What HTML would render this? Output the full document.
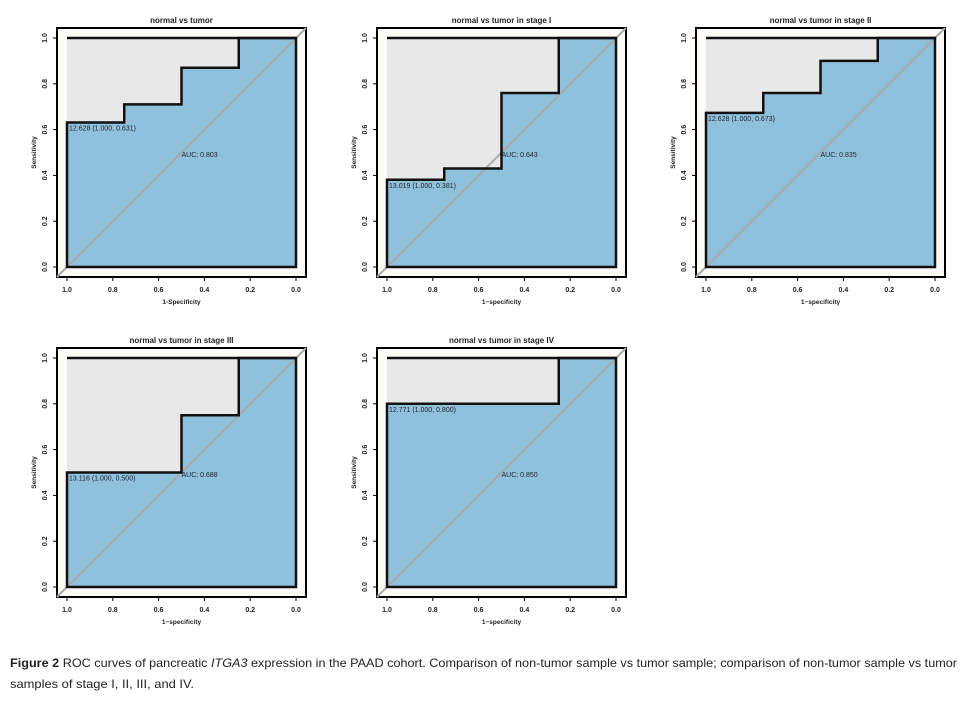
<!DOCTYPE html>
<html><head><meta charset="utf-8"><style>
body{margin:0;background:#fff;}
svg{display:block;font-family:"Liberation Sans",sans-serif;}
</style></head><body>
<svg id="fig" width="974" height="706" viewBox="0 0 974 706">
<text x="10" y="667" font-size="12" fill="#222" textLength="947" lengthAdjust="spacingAndGlyphs"><tspan font-weight="bold">Figure 2</tspan> ROC curves of pancreatic <tspan font-style="italic">ITGA3</tspan> expression in the PAAD cohort. Comparison of non-tumor sample vs tumor sample; comparison of non-tumor sample vs tumor</text>
<text x="10" y="688" font-size="12" fill="#222" textLength="184" lengthAdjust="spacingAndGlyphs">samples of stage I, II, III, and IV.</text>
</svg>
<script>
const titles = ["normal vs tumor","normal vs tumor in stage I","normal vs tumor in stage II","normal vs tumor in stage III","normal vs tumor in stage IV"];
const xLabels = ["1-Specificity","1\u2212specificity","1\u2212specificity","1\u2212specificity","1\u2212specificity"];
const specs1 = [1,0.75,0.75,0.5,0.5,0.25,0.25,0];
const sens1 = [0.631,0.631,0.71,0.71,0.87,0.87,1,1];
const specs2 = [1,0.75,0.75,0.5,0.5,0.25,0.25,0];
const sens2 = [0.381,0.381,0.43,0.43,0.76,0.76,1,1];
const specs3 = [1,0.75,0.75,0.5,0.5,0.25,0.25,0];
const sens3 = [0.673,0.673,0.76,0.76,0.9,0.9,1,1];
const specs4 = [1,0.5,0.5,0.25,0.25,0];
const sens4 = [0.5,0.5,0.75,0.75,1,1];
const specs5 = [1,0.25,0.25,0];
const sens5 = [0.8,0.8,1,1];
const thrLabels = ["12.628 (1.000, 0.631)","13.019 (1.000, 0.381)","12.628 (1.000, 0.673)","13.116 (1.000, 0.500)","12.771 (1.000, 0.800)"];
const aucLabels = ["AUC: 0.803","AUC: 0.643","AUC: 0.835","AUC: 0.688","AUC: 0.850"];
const ticks = [1.0,0.8,0.6,0.4,0.2,0.0];
const tickLabels = ["1.0","0.8","0.6","0.4","0.2","0.0"];
const allSpecs=[specs1,specs2,specs3,specs4,specs5], allSens=[sens1,sens2,sens3,sens4,sens5];
const origins=[[67,38],[387,38],[706,38],[67,358],[387,358]];
const NS="http://www.w3.org/2000/svg", svg=document.getElementById('fig');
function mk(tag,attrs,parent){const e=document.createElementNS(NS,tag);for(const k in attrs)e.setAttribute(k,attrs[k]);(parent||svg).appendChild(e);return e;}
const W=229,H=229;
origins.forEach((o,i)=>{
  const x=v=>o[0]+(1-v)*W, y=v=>o[1]+(1-v)*H;
  const g=mk('g',{});
  
  
  const frame=mk('rect',{x:x(1)-10,y:y(1)-10,width:W+20,height:H+20,fill:'#fcfbf8',stroke:'#000','stroke-width':2},g);
  
  
  const bg=mk('rect',{x:x(1),y:y(1),width:W,height:H,fill:'#e8e8e8'},g);
  
  
  const sp=allSpecs[i], se=allSens[i];
  let d='M'+x(1)+','+y(0);
  sp.forEach((s,j)=>{d+=' L'+x(s)+','+y(se[j]);});
  d+=' L'+x(0)+','+y(0)+' Z';
  const area=mk('path',{d:d,fill:'#8fc1dc'},g);
  
  
  const diag=mk('line',{x1:x(1)-10,y1:y(0)+10,x2:x(0)+10,y2:y(1)-10,stroke:'#aaa','stroke-width':2},g);
  
  
  const curve=mk('path',{d:d,fill:'none',stroke:'#111','stroke-width':2.5},g);
  
  
  const top=mk('line',{x1:x(1),y1:y(1),x2:x(0),y2:y(1),stroke:'#111','stroke-width':2.5},g);
  
  
  const thr=mk('text',{x:x(1)+2,y:y(se[0])+8,'font-size':7,fill:'#223'},g);
  thr.textContent=thrLabels[i];
  
  
  const auc=mk('text',{x:x(0.5),y:y(0.48),'font-size':7,fill:'#223'},g);
  auc.textContent=aucLabels[i];
  
  
  const t=mk('text',{x:x(0.5),y:y(1)-15,'font-size':8,'font-weight':'bold','text-anchor':'middle',fill:'#222'},g);
  t.textContent=titles[i];
  
  
  ticks.forEach((v,j)=>{
    const tx=mk('line',{x1:x(v),y1:y(0)+10,x2:x(v),y2:y(0)+14,stroke:'#000','stroke-width':1},g);
    
    
    const lx=mk('text',{x:x(v),y:y(0)+25,'font-size':7,'font-weight':'bold','text-anchor':'middle',fill:'#222'},g);
    lx.textContent=tickLabels[j];
    
    
    const ty=mk('line',{x1:x(1)-14,y1:y(v),x2:x(1)-10,y2:y(v),stroke:'#000','stroke-width':1},g);
    
    
    const ly=mk('text',{x:x(1)-20,y:y(v),'font-size':7,'font-weight':'bold','text-anchor':'middle',fill:'#222',transform:'rotate(-90 '+(x(1)-20)+' '+y(v)+')'},g);
    ly.textContent=tickLabels[j];
    
    
  });
  const xl=mk('text',{x:x(0.5),y:y(0)+37,'font-size':6.5,'font-weight':'bold','text-anchor':'middle',fill:'#222'},g);
  xl.textContent=xLabels[i];
  
  
  const yx=x(1)-31, yy=y(0.5);
  const yl=mk('text',{x:yx,y:yy,'font-size':6.5,'font-weight':'bold','text-anchor':'middle',fill:'#222',transform:'rotate(-90 '+yx+' '+yy+')'},g);
  yl.textContent='Sensitivity';
  
  
});
</script>
</body></html>
